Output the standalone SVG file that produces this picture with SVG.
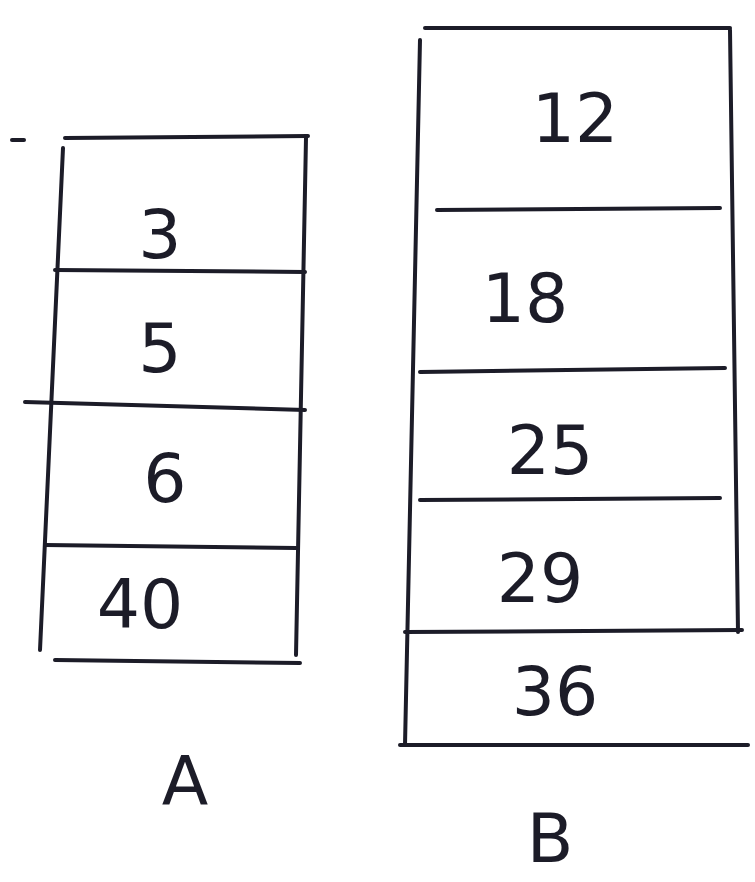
<svg xmlns="http://www.w3.org/2000/svg" width="755" height="882" viewBox="0 0 755 882">
<style>
.l{stroke:#1c1c28;stroke-width:4;stroke-linecap:round;fill:none}
.t{font-family:"DejaVu Sans","Liberation Sans",sans-serif;font-size:68px;fill:#1c1c28;text-anchor:middle}
</style>
<rect width="755" height="882" fill="#ffffff"/>
<g id="arrayA">
<path class="l" d="M12 140 L24 140"/>
<path class="l" d="M65 138 L308 136"/>
<path class="l" d="M63 148 L40 650"/>
<path class="l" d="M306 138 L296 655"/>
<path class="l" d="M55 270 L305 272"/>
<path class="l" d="M25 402 L305 410"/>
<path class="l" d="M45 545 L296 548"/>
<path class="l" d="M55 660 L300 663"/>
<text class="t" x="160" y="258">3</text>
<text class="t" x="160" y="372">5</text>
<text class="t" x="165" y="502">6</text>
<text class="t" x="140" y="628">40</text>
<text class="t" x="185" y="805">A</text>
</g>
<g id="arrayB">
<path class="l" d="M425 28 L730 28"/>
<path class="l" d="M420 40 L405 745"/>
<path class="l" d="M730 30 L738 632"/>
<path class="l" d="M437 210 L720 208"/>
<path class="l" d="M420 372 L725 368"/>
<path class="l" d="M420 500 L720 498"/>
<path class="l" d="M405 632 L742 630"/>
<path class="l" d="M400 745 L748 745"/>
<text class="t" x="575" y="142">12</text>
<text class="t" x="525" y="322">18</text>
<text class="t" x="550" y="474">25</text>
<text class="t" x="540" y="602">29</text>
<text class="t" x="555" y="715">36</text>
<text class="t" x="550" y="862">B</text>
</g>
</svg>
